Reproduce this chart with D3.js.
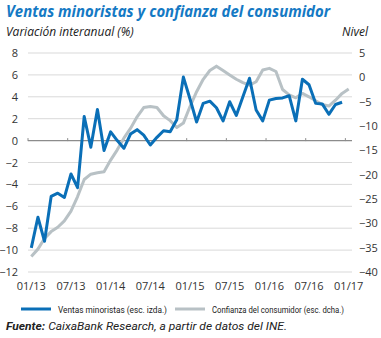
<!DOCTYPE html>
<html>
<head>
<meta charset="utf-8">
<script src="https://cdn.jsdelivr.net/npm/d3@7"></script>
<style>
  body { margin: 0; background: #fff; }
  text { font-family: "Open Sans", "Liberation Sans", sans-serif; }
  .narrow { font-family: "Liberation Sans Narrow", Roboto, sans-serif; }
</style>
</head>
<body>
<div class="chart"></div>
<script>
// monthly, 01/13 .. 01/17
const months = d3.timeMonth.range(new Date(2013, 0, 1), new Date(2017, 1, 1));
const tickLabels = ['01/13', '07/13', '01/14', '07/14', '01/15', '07/15', '01/16', '07/16', '01/17'];
const leftTicks = [8, 6, 4, 2, 0, -2, -4, -6, -8, -10, -12];
const rightTicks = [5, 0, -5, -10, -15, -20, -25, -30, -35, -40];

// ventas minoristas, % interanual (esc. izda.)
const ventas = [-9.8, -7.0, -9.2, -5.1, -4.8, -5.2, -3.05, -4.3, 2.2, -0.6, 2.85, -0.9,
    0.8, 0.0, -0.7, 0.6, 1.0, 0.5, -0.4, 0.3, 0.9, 0.8, 1.9, 5.8,
    3.8, 1.7, 3.4, 3.6, 3.0, 1.8, 3.55, 2.3, 4.0, 5.7, 2.8, 1.8,
    3.7, 3.85, 3.9, 4.1, 1.8, 5.6, 5.1, 3.4, 3.35, 2.4, 3.3, 3.5];

// confianza del consumidor, nivel (esc. dcha.)
const confianza = [-36.8, -35.3, -33.1, -31.7, -30.8, -29.5, -27.5, -24.5, -21.0, -19.9, -19.6, -19.4,
    -17.0, -14.9, -12.5, -10.5, -8.1, -6.2, -6.0, -6.2, -7.9, -8.9, -10.3, -9.4,
    -6.0, -2.95, -0.4, 1.4, 2.3, 1.4, 0.5, -0.4, -1.1, -1.6, -0.9, 1.5,
    1.85, 1.2, -2.5, -3.6, -4.2, -3.3, -4.0, -4.8, -5.6, -5.9, -4.7, -3.3, -2.4];

const W = 381, H = 338;
const plot = {left: 28, right: 352, top: 53, bottom: 272};
const blue = '#0a6fb7', grey = '#b8c1c5';

let svg = d3.select('.chart')
    .append('svg')
        .attr('width', W)
        .attr('height', H);

let x = d3.scaleBand()
    .domain(months.map((d, i) => i))
    .range([plot.left, plot.right]);
const cx = i => x(i) + x.bandwidth() / 2;

let yL = d3.scaleLinear()
    .domain([-12, 8])
    .range([plot.bottom, plot.top]);

let yR = d3.scaleLinear()
    .domain([-40, 5])
    .range([plot.bottom, plot.top]);

// titles
svg.append('text')
    .attr('x', 6).attr('y', 17)
    .attr('textLength', 324).attr('lengthAdjust', 'spacingAndGlyphs')
    .style('font-size', '16px').style('font-weight', 'bold').style('font-style', 'italic')
    .style('fill', '#1479c4')
    .text('Ventas minoristas y confianza del consumidor');

svg.append('text')
    .attr('x', 6).attr('y', 36)
    .style('font-size', '12px').style('font-style', 'italic').style('fill', '#222')
    .text('Variación interanual (%)');

svg.append('text')
    .attr('x', 368).attr('y', 36)
    .attr('text-anchor', 'end')
    .style('font-size', '12px').style('font-style', 'italic').style('fill', '#222')
    .text('Nivel');

// gridlines
svg.append('g')
    .selectAll('line')
    .data(leftTicks.filter(d => d !== 0))
    .join('line')
        .attr('x1', plot.left).attr('x2', plot.right)
        .attr('y1', d => yL(d)).attr('y2', d => yL(d))
        .style('stroke', '#d9d9d9')
        .style('stroke-width', 1);

// left axis
let yAxisL = d3.axisLeft(yL)
    .tickValues(leftTicks)
    .tickSize(0)
    .tickPadding(10);
svg.append('g')
        .attr('transform', `translate(${plot.left}, 0)`)
    .call(yAxisL)
    .call(g => g.select('.domain').remove())
    .selectAll('text')
        .style('font-size', '11px').style('fill', '#333')
        .style('font-family', '"Open Sans", sans-serif');

// right axis
let yAxisR = d3.axisRight(yR)
    .tickValues(rightTicks)
    .tickSize(0)
    .tickPadding(7);
svg.append('g')
        .attr('transform', `translate(${plot.right}, 0)`)
    .call(yAxisR)
    .call(g => g.select('.domain').remove())
    .selectAll('text')
        .style('font-size', '11px').style('fill', '#333')
        .style('font-family', '"Open Sans", sans-serif');

// zero line with month ticks
const y0 = yL(0);
svg.append('line')
    .attr('x1', plot.left).attr('x2', plot.right)
    .attr('y1', y0).attr('y2', y0)
    .style('stroke', '#8c8c8c')
    .style('stroke-width', 1.3);

const tickIdx = tickLabels.map((d, k) => k * 6);
svg.append('g')
    .selectAll('line')
    .data(tickIdx)
    .join('line')
        .attr('x1', d => x(d)).attr('x2', d => x(d))
        .attr('y1', y0 - 2.5).attr('y2', y0 + 0.5)
        .style('stroke', '#8c8c8c')
        .style('stroke-width', 1);

// x labels
svg.append('g')
    .selectAll('text')
    .data(tickIdx)
    .join('text')
        .attr('x', d => cx(d))
        .attr('y', 290)
        .attr('text-anchor', 'middle')
        .style('font-size', '11px').style('fill', '#333')
        .text((d, k) => tickLabels[k]);

// lines
let lineR = d3.line()
    .x((d, i) => cx(i))
    .y(d => yR(d));
let lineL = d3.line()
    .x((d, i) => cx(i))
    .y(d => yL(d));

svg.append('path')
    .datum(confianza)
    .attr('d', lineR)
    .style('fill', 'none')
    .style('stroke', grey)
    .style('stroke-width', 3)
    .style('stroke-linejoin', 'round');

svg.append('path')
    .datum(ventas)
    .attr('d', lineL)
    .style('fill', 'none')
    .style('stroke', blue)
    .style('stroke-width', 3)
    .style('stroke-linejoin', 'round');

// legend
const legend = [
    {label: 'Ventas minoristas (esc. izda.)', color: blue, x: 21, len: 109},
    {label: 'Confianza del consumidor (esc. dcha.)', color: grey, x: 175, len: 132}
];
let lg = svg.append('g')
    .selectAll('g')
    .data(legend)
    .join('g')
        .attr('transform', d => `translate(${d.x}, 309)`);
lg.append('line')
    .attr('x1', 0).attr('x2', 30)
    .style('stroke', d => d.color)
    .style('stroke-width', 3);
lg.append('text')
    .attr('class', 'narrow')
    .attr('x', 37).attr('y', 3.5)
    .attr('textLength', d => d.len).attr('lengthAdjust', 'spacingAndGlyphs')
    .style('font-size', '9.5px').style('fill', '#222')
    .text(d => d.label);

// source
let src = svg.append('text')
    .attr('class', 'narrow')
    .attr('x', 6).attr('y', 330)
    .attr('textLength', 281).attr('lengthAdjust', 'spacingAndGlyphs')
    .style('font-size', '11px').style('font-style', 'italic').style('fill', '#222');
src.append('tspan').style('font-weight', 'bold').text('Fuente:');
src.append('tspan').text(' CaixaBank Research, a partir de datos del INE.');
</script>
</body>
</html>
